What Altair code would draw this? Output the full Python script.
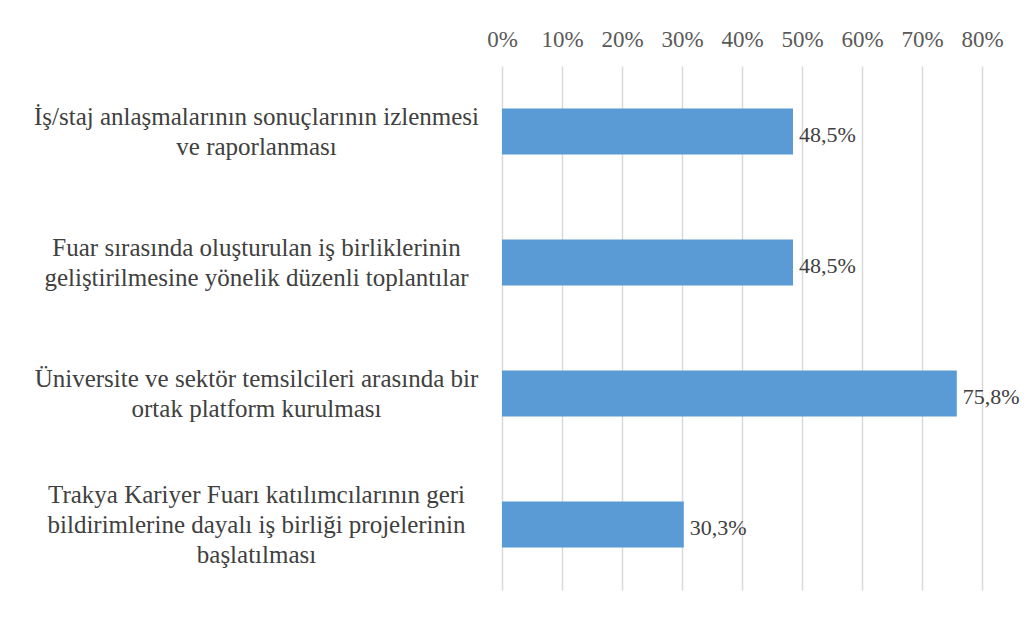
import altair as alt
import pandas as pd

categories = [
    "İş/staj anlaşmalarının sonuçlarının izlenmesi|ve raporlanması",
    "Fuar sırasında oluşturulan iş birliklerinin|geliştirilmesine yönelik düzenli toplantılar",
    "Üniversite ve sektör temsilcileri arasında bir|ortak platform kurulması",
    "Trakya Kariyer Fuarı katılımcılarının geri|bildirimlerine dayalı iş birliği projelerinin|başlatılması",
]
values = [0.485, 0.485, 0.758, 0.303]
tick_values = [0, 0.1, 0.2, 0.3, 0.4, 0.5, 0.6, 0.7, 0.8]

df = pd.DataFrame({
    "cat": categories,
    "val": values,
    "lbl": [f"{v * 100:.1f}".replace(".", ",") + "%" for v in values],
})

FONT = "Liberation Serif"

y_enc = alt.Y(
    "cat:N",
    sort=None,
    title=None,
    scale=alt.Scale(paddingInner=0.65, paddingOuter=0.325),
    axis=alt.Axis(
        domain=False, ticks=False, labelAlign="center", labelPadding=246,
        labelLimit=600, labelFont=FONT, labelFontSize=25, labelColor="#404040",
        labelLineHeight=30, labelExpr="split(datum.label, '|')",
        labelOffset={
            "condition": {"test": "length(split(datum.value, '|')) > 2", "value": -30},
            "value": -15,
        },
    ),
)

x_enc = alt.X(
    "val:Q",
    title=None,
    scale=alt.Scale(domain=[0, 0.8], nice=False),
    axis=alt.Axis(
        orient="top", values=tick_values, format=".0%", domain=False, ticks=False,
        labelFont=FONT, labelFontSize=23, labelColor="#595959", labelPadding=15,
        grid=True, gridColor="#D9D9D9", gridWidth=1.5, labelFlush=False,
    ),
)

bars = alt.Chart(df).mark_bar(color="#5B9BD5").encode(x=x_enc, y=y_enc)
texts = alt.Chart(df).mark_text(
    align="left", dx=6, dy=3, font=FONT, fontSize=22, color="#404040"
).encode(x="val:Q", y=alt.Y("cat:N", sort=None), text="lbl:N")

chart = (bars + texts).properties(
    width=480, height=524,
    autosize=alt.AutoSizeParams(type="none"),
    padding={"left": 494, "top": 58, "right": 39, "bottom": 20},
    background="white",
).configure_view(stroke=None)

chart.save("out.html", embed_options={"renderer": "svg", "actions": False})
